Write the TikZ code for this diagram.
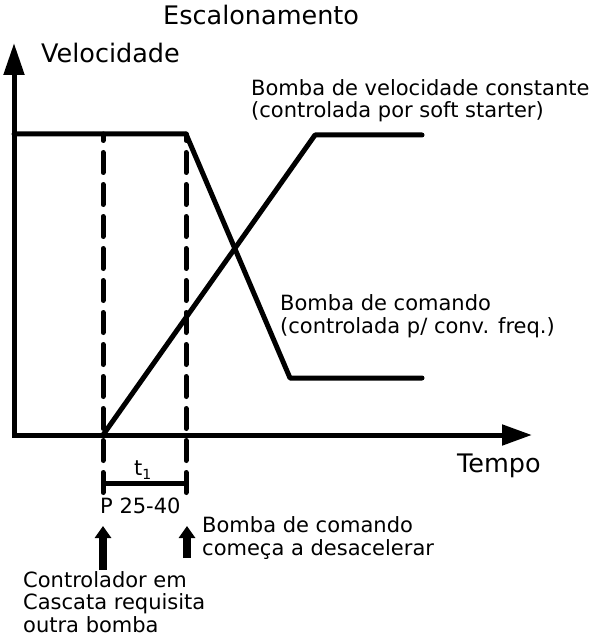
\documentclass[tikz,border=0pt]{standalone}
\usepackage{fontspec}
\setmainfont{DejaVu Sans}
\usetikzlibrary{arrows.meta}
\begin{document}
\begin{tikzpicture}[x=1pt,y=-1pt,
  curve/.style={line width=5pt, line cap=round, line join=round},
  guide/.style={line width=5pt, line cap=round, dash pattern=on 20pt off 12pt},
  axis/.style={line width=5pt, line join=miter, {Triangle[length=32pt,width=20pt]}-{Triangle[length=30pt,width=20pt]}},
  lbl/.style={font=\fontsize{21}{22.5}\selectfont, inner sep=0pt, anchor=base west, align=left},
  big/.style={font=\fontsize{25.5}{28}\selectfont, inner sep=0pt, anchor=base west},
  uparrow/.style={line width=8pt, -{Triangle[length=12pt,width=16pt]}}]
\useasboundingbox (0,0) rectangle (590,639);
% axes
\coordinate (O) at (14,435);
\coordinate (ytip) at (14,43);
\coordinate (xtip) at (532,435);
\draw[axis] (ytip) -- (O) -- (xtip);
% drive pump
\coordinate (d0) at (14,134);
\coordinate (d1) at (186,134);
\coordinate (d2) at (290,378);
\coordinate (d3) at (422,378);
\draw[curve] (d0) -- (d1) -- (d2) -- (d3);
% fixed speed pump
\coordinate (f0) at (103,435);
\coordinate (f1) at (315,135);
\coordinate (f2) at (422,135);
\draw[curve] (f0) -- (f1) -- (f2);
% guides (drawn bottom-up so the last dash is complete)
\coordinate (gL0) at (103,134);
\coordinate (gL1) at (103,492.5);
\coordinate (gR0) at (186,134);
\coordinate (gR1) at (186,492.5);
\draw[guide] (gL1) -- (gL0);
\draw[guide] (gR1) -- (gR0);
\coordinate (bL) at (103,483);
\coordinate (bR) at (186,483);
\draw[line width=5pt] (bL) -- (bR);
% texts
\node[big] (title) at (163,25) {Escalonamento};
\node[big] (vel) at (41,63) {Velocidade};
\node[big] (tempo) at (457,472) {Tempo};
\node[lbl] (fixlbl) at (251,118) {Bomba de velocidade constante\\(controlada por soft starter)};
\node[lbl] (drvlbl) at (280,333) {Bomba de comando\\(controlada p/ conv. freq.)};
\node[inner sep=0pt, anchor=base west, font=\fontsize{21}{21}\selectfont] (t1) at (134,475) {t\raisebox{-4pt}{\fontsize{14}{14}\selectfont 1}};
\node[lbl] (par) at (100,513) {P 25-40};
\node[lbl] (declbl) at (202,555) {Bomba de comando\\começa a desacelerar};
\node[lbl] (ctrllbl) at (23,632) {Controlador em\\Cascata requisita\\outra bomba};
% event arrows
\coordinate (aL0) at (103,570);
\coordinate (aL1) at (103,526);
\coordinate (aR0) at (187,558);
\coordinate (aR1) at (187,526);
\draw[uparrow] (aL0) -- (aL1);
\draw[uparrow] (aR0) -- (aR1);
\end{tikzpicture}
\end{document}
